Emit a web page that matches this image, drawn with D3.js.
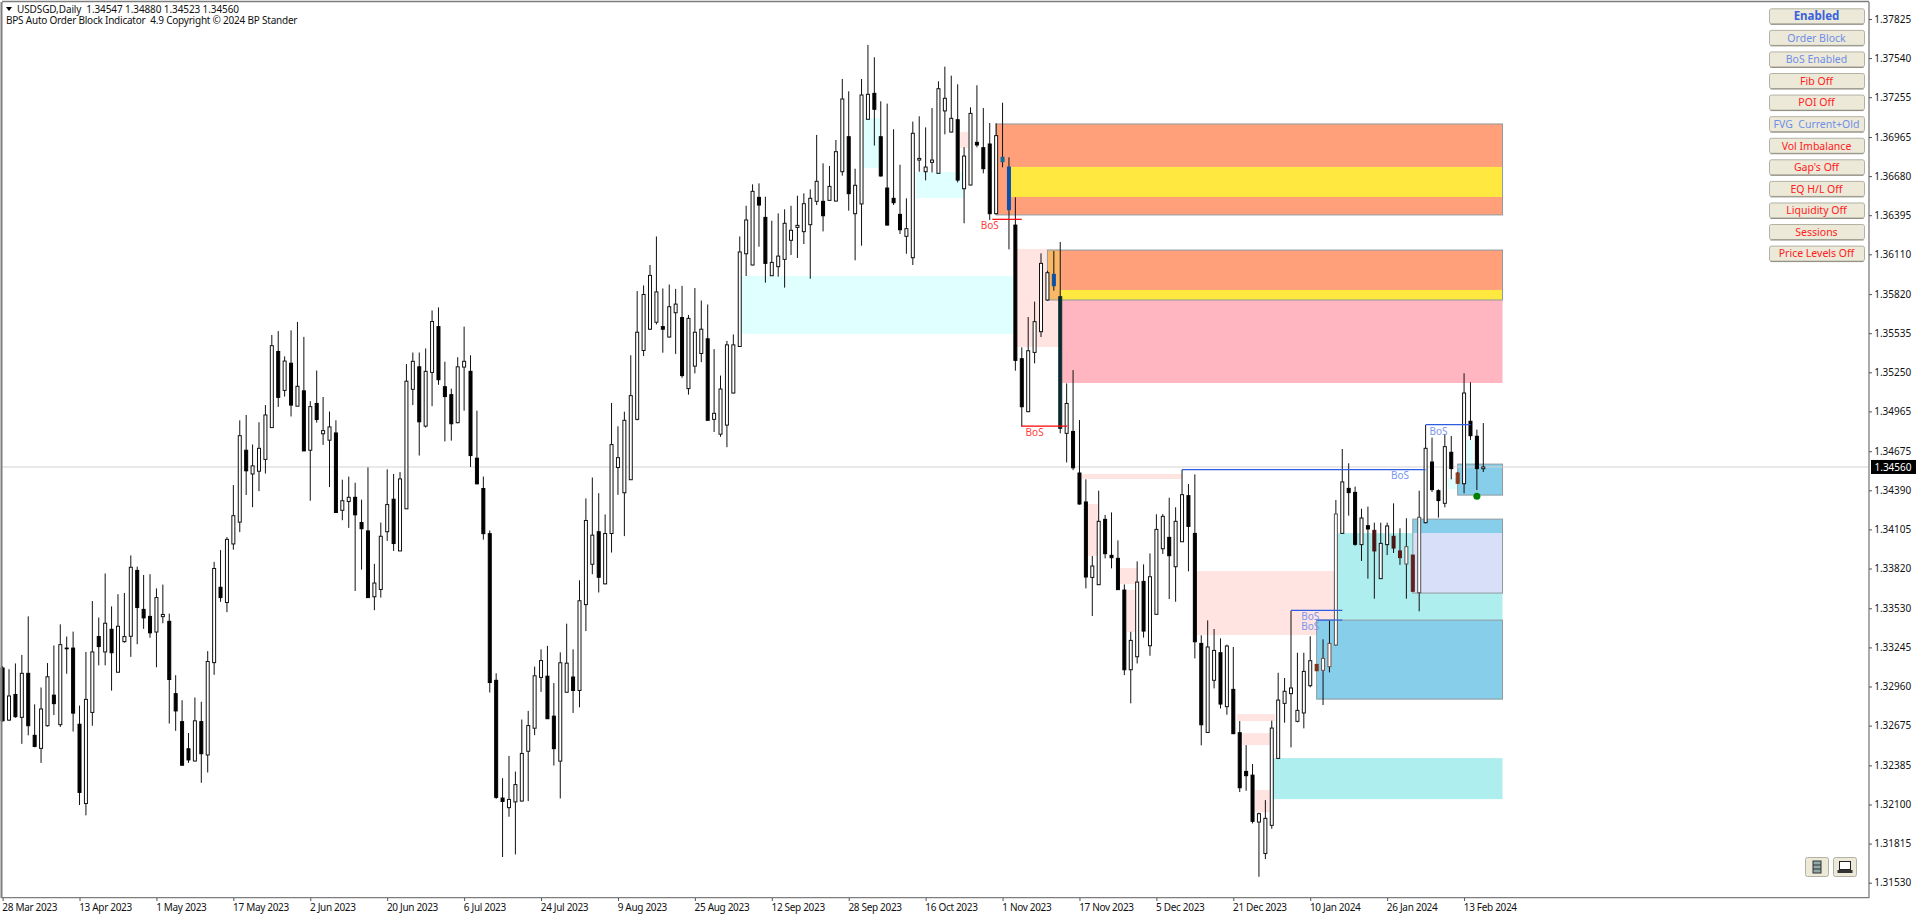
<!DOCTYPE html>
<html><head><meta charset="utf-8">
<script src="https://cdn.jsdelivr.net/npm/d3@7/dist/d3.min.js"></script>
<style>
html,body{margin:0;padding:0;background:#fff;overflow:hidden}
svg{display:block;font-family:"Noto Sans",sans-serif}
text{white-space:pre}
</style></head><body>
<script>
const opens=[1.33095,1.32715,1.32902,1.32735,1.33056,1.32604,1.32509,1.32674,1.32897,1.32682,
1.33240,1.33240,1.32685,1.32107,1.32771,1.33324,1.33212,1.33377,1.33064,1.33287,
1.33326,1.33806,1.33522,1.33471,1.33357,1.33469,1.33435,1.32908,1.32704,1.32506,
1.32417,1.32704,1.32461,1.33134,1.33683,1.33572,1.33999,1.34158,1.34682,1.34509,
1.34529,1.34615,1.34847,1.35402,1.35118,1.35316,1.35003,1.35115,1.34682,1.35023,
1.34802,1.34755,1.34808,1.34244,1.34308,1.34339,1.34155,1.34094,1.33614,1.33667,
1.34088,1.34325,1.33948,1.34255,1.35126,1.35290,1.34858,1.35249,1.35583,1.35145,
1.35087,1.34883,1.35288,1.35257,1.34624,1.34403,1.34074,1.33005,1.32147,1.32077,
1.32119,1.32125,1.32488,1.32656,1.33026,1.33035,1.32744,1.32416,1.32918,1.33029,
1.32931,1.33557,1.33851,1.34088,1.33708,1.34075,1.34556,1.34372,1.34467,1.34907,
1.35409,1.35564,1.35615,1.35583,1.35507,1.35684,1.35649,1.35131,1.35295,1.35387,
1.35494,1.34907,1.34799,1.34865,1.35099,1.35438,1.36114,1.36032,1.36525,1.36379,
1.35954,1.36020,1.36073,1.36212,1.36306,1.36275,1.36326,1.36496,1.36496,1.36503,
1.36498,1.36712,1.36967,1.36406,1.36477,1.37094,1.37283,1.36967,1.36593,1.36518,
1.36401,1.36241,1.36085,1.36797,1.36712,1.36780,1.36700,1.37155,1.37001,1.37091,
1.36588,1.36615,1.36926,1.36887,1.36914,1.36406,1.36817,1.36746,1.36323,1.35349,
1.34963,1.35395,1.35546,1.35777,1.35964,1.35801,1.34805,1.34819,1.34516,1.34305,
1.33755,1.33702,1.34178,1.33916,1.33894,1.33663,1.33082,1.33177,1.33726,1.33257,
1.33486,1.33964,1.34047,1.33833,1.34015,1.34351,1.34076,1.33274,1.32625,1.33005,
1.33206,1.32813,1.32939,1.32623,1.32341,1.32314,1.31972,1.31743,1.31948,1.32436,
1.32837,1.32908,1.32706,1.32767,1.32966,1.33121,1.33078,1.33104,1.33262,1.34076,
1.34404,1.34375,1.33994,1.34132,1.34098,1.33746,1.33994,1.34055,1.33948,1.33853,
1.33918,1.33644,1.34154,1.34596,1.34387,1.34295,1.34667,1.34516,1.34438,1.34893,
1.34784,1.34547];
const closes=[1.32710,1.32891,1.32740,1.33056,1.32674,1.32523,1.32796,1.33031,1.32835,1.33265,
1.33235,1.32766,1.32188,1.32866,1.33212,1.33251,1.33421,1.33206,1.33399,1.33324,
1.33829,1.33536,1.33460,1.33351,1.33608,1.33485,1.33011,1.32782,1.32386,1.32425,
1.32710,1.32470,1.33142,1.33820,1.33608,1.34032,1.34205,1.34788,1.34532,1.34568,
1.34696,1.34939,1.35444,1.35067,1.35332,1.35011,1.35148,1.34677,1.35000,1.34906,
1.34825,1.34852,1.34228,1.34314,1.34339,1.34211,1.34110,1.33608,1.33714,1.34055,
1.34286,1.34002,1.34473,1.35185,1.35330,1.34889,1.35257,1.35620,1.35196,1.35073,
1.34875,1.35290,1.35330,1.34643,1.34437,1.34074,1.32989,1.32152,1.32122,1.32137,
1.32245,1.32472,1.32675,1.33038,1.33149,1.32725,1.32507,1.33133,1.33130,1.32931,
1.33585,1.34170,1.34063,1.33756,1.34075,1.34723,1.34628,1.34900,1.35080,1.35542,
1.35817,1.35956,1.35836,1.35564,1.35728,1.35747,1.35226,1.35643,1.35542,1.35564,
1.34900,1.34951,1.35128,1.35450,1.35450,1.36127,1.36360,1.36569,1.36469,1.36044,
1.36051,1.36097,1.36336,1.36285,1.36321,1.36479,1.36518,1.36642,1.36391,1.36605,
1.36858,1.37242,1.36552,1.36613,1.37271,1.37276,1.37167,1.36681,1.36323,1.36486,
1.36289,1.36297,1.36992,1.36809,1.36746,1.36797,1.37317,1.37247,1.37101,1.36651,
1.36826,1.37137,1.36907,1.36734,1.36406,1.36975,1.36785,1.36435,1.35337,1.34999,
1.35407,1.35619,1.36044,1.35976,1.35881,1.34841,1.35023,1.34554,1.34290,1.33758,
1.33838,1.34164,1.33928,1.33899,1.33666,1.33082,1.33296,1.33721,1.33364,1.33760,
1.34105,1.34200,1.33913,1.34164,1.34358,1.34127,1.33286,1.32681,1.33248,1.33223,
1.32832,1.33255,1.32616,1.32222,1.32310,1.31977,1.32033,1.31999,1.32657,1.32861,
1.32925,1.32949,1.32786,1.33070,1.33148,1.33075,1.33165,1.33274,1.34217,1.34451,
1.34373,1.33996,1.34188,1.34108,1.33948,1.34003,1.34130,1.33969,1.33899,1.33979,
1.33654,1.34193,1.34696,1.34395,1.34315,1.34708,1.34548,1.34441,1.35099,1.34788,
1.34548,1.34560];
const highs=[1.33109,1.33086,1.33128,1.33190,1.33471,1.32830,1.32953,1.33131,1.33259,1.33413,
1.33324,1.33360,1.32821,1.33212,1.33583,1.33463,1.33784,1.33544,1.33633,1.33642,
1.33915,1.33834,1.33773,1.33778,1.33675,1.33703,1.33491,1.33042,1.32860,1.32621,
1.32880,1.32849,1.33218,1.33868,1.33954,1.34049,1.34428,1.34900,1.34939,1.34724,
1.34886,1.35011,1.35522,1.35550,1.35366,1.35556,1.35617,1.35508,1.35040,1.35263,
1.35070,1.34964,1.34900,1.34467,1.34490,1.34445,1.34322,1.34557,1.33854,1.34155,
1.34543,1.34509,1.34523,1.35310,1.35394,1.35394,1.35424,1.35701,1.35723,1.35327,
1.35131,1.35360,1.35583,1.35374,1.34970,1.34490,1.34097,1.33056,1.32292,1.32454,
1.32340,1.32719,1.32782,1.33105,1.33231,1.33256,1.32985,1.33209,1.33418,1.33231,
1.33734,1.34331,1.34483,1.34369,1.34214,1.35027,1.34856,1.34963,1.35374,1.35842,
1.35883,1.36032,1.36240,1.35861,1.35890,1.35858,1.35880,1.35668,1.35864,1.35773,
1.35744,1.35419,1.35226,1.35479,1.35526,1.36240,1.36464,1.36620,1.36627,1.36530,
1.36355,1.36408,1.36438,1.36464,1.36537,1.36554,1.36583,1.36980,1.36773,1.36754,
1.36943,1.37388,1.37298,1.36734,1.37388,1.37636,1.37546,1.37225,1.37208,1.37021,
1.36763,1.36518,1.37077,1.37116,1.37035,1.37176,1.37371,1.37478,1.37412,1.37349,
1.36890,1.37181,1.37342,1.37176,1.37067,1.37065,1.37215,1.36817,1.36525,1.35432,
1.35653,1.35765,1.36117,1.35990,1.36134,1.36200,1.35169,1.35266,1.34902,1.34470,
1.33911,1.34387,1.34210,1.34229,1.34025,1.33704,1.33359,1.33872,1.33850,1.33930,
1.34215,1.34217,1.34336,1.34266,1.34540,1.34436,1.34506,1.33333,1.33442,1.33379,
1.33311,1.33265,1.33248,1.32708,1.32533,1.32395,1.32040,1.32132,1.32711,1.33060,
1.33022,1.33513,1.33206,1.33206,1.33326,1.33121,1.33304,1.33440,1.34319,1.34691,
1.34587,1.34417,1.34256,1.34271,1.34154,1.34154,1.34154,1.34295,1.34113,1.34186,
1.33918,1.34387,1.34866,1.34774,1.34397,1.34801,1.34786,1.34524,1.35243,1.35177,
1.34832,1.34880];
const lows=[1.32704,1.32710,1.32732,1.32542,1.32604,1.32517,1.32403,1.32668,1.32752,1.32665,
1.33053,1.32632,1.32096,1.32021,1.32674,1.33114,1.33114,1.32930,1.33061,1.33279,
1.33176,1.33268,1.33380,1.33315,1.33100,1.33421,1.32690,1.32637,1.32386,1.32403,
1.32414,1.32258,1.32333,1.33045,1.33577,1.33502,1.33957,1.34085,1.34356,1.34267,
1.34384,1.34512,1.34847,1.34998,1.35073,1.34928,1.35003,1.34677,1.34314,1.34883,
1.34721,1.34414,1.34228,1.34172,1.34116,1.33656,1.33812,1.33608,1.33516,1.33608,
1.34021,1.33948,1.33948,1.34255,1.35011,1.34643,1.34847,1.35003,1.35159,1.34746,
1.34752,1.34878,1.34970,1.34560,1.34434,1.34030,1.32916,1.32141,1.31717,1.32011,
1.31736,1.32122,1.32125,1.32605,1.32921,1.32725,1.32384,1.32144,1.32918,1.32767,
1.32808,1.33364,1.33778,1.33645,1.33705,1.33936,1.34357,1.34056,1.34467,1.34900,
1.35368,1.35558,1.35599,1.35393,1.35504,1.35384,1.35210,1.35087,1.35242,1.35324,
1.34900,1.34815,1.34780,1.34704,1.35096,1.35438,1.35952,1.36029,1.36165,1.35903,
1.35952,1.35947,1.35867,1.36105,1.36083,1.36185,1.35932,1.36469,1.36277,1.36501,
1.36496,1.36683,1.36428,1.36066,1.36173,1.37089,1.36902,1.36676,1.36321,1.36469,
1.36258,1.36114,1.36032,1.36712,1.36649,1.36707,1.36700,1.36984,1.36999,1.36634,
1.36336,1.36613,1.36890,1.36700,1.36360,1.36401,1.36744,1.36146,1.35262,1.34853,
1.34960,1.35315,1.35507,1.35772,1.35845,1.34805,1.34593,1.34537,1.34285,1.33675,
1.33474,1.33700,1.33894,1.33821,1.33663,1.33043,1.32837,1.33128,1.33316,1.33184,
1.33483,1.33926,1.33597,1.33578,1.34013,1.33799,1.33165,1.32531,1.32623,1.32946,
1.32800,1.32754,1.32613,1.32191,1.32200,1.31962,1.31573,1.31702,1.31923,1.32431,
1.32696,1.32516,1.32699,1.32655,1.32954,1.33075,1.32825,1.33063,1.33257,1.34074,
1.34205,1.33986,1.33875,1.33746,1.33600,1.33744,1.33918,1.33933,1.33846,1.33600,
1.33651,1.33508,1.34149,1.34378,1.34191,1.34266,1.34470,1.34436,1.34368,1.34757,
1.34392,1.34523];
const dateLabels=["28 Mar 2023","13 Apr 2023","1 May 2023","17 May 2023","2 Jun 2023","20 Jun 2023","6 Jul 2023","24 Jul 2023","9 Aug 2023","25 Aug 2023","12 Sep 2023","28 Sep 2023","16 Oct 2023","1 Nov 2023","17 Nov 2023","5 Dec 2023","21 Dec 2023","10 Jan 2024","26 Jan 2024","13 Feb 2024"];
const priceTicks=[1.37825,1.37540,1.37255,1.36965,1.36680,1.36395,1.36110,1.35820,1.35535,1.35250,1.34965,1.34675,1.34390,1.34105,1.33820,1.33530,1.33245,1.32960,1.32675,1.32385,1.32100,1.31815,1.31530];
const lastPrice=1.34560;
// zones: [kind, first bar, last bar, upper price, lower price]
const zones=[
["cyan",115.3,157.6,1.35952,1.35529],["cyan",134.2,136.9,1.37104,1.36739],["cyan",142.5,150,1.36710,1.36521],
["pink",149.4,150.6,1.37002,1.36885],["pink",158.2,165,1.36149,1.35434],["pink",168.4,184,1.34509,1.34472],
["pink",169.2,170.9,1.34290,1.33911],["pink",174.3,177,1.33823,1.33707],["pink",175.4,176.7,1.33663,1.33357],
["pink",186.3,207.7,1.33801,1.33335],["pink",192.6,198.5,1.32759,1.32708],["pink",193.4,197.7,1.32620,1.32533],
["pink",195.4,197.7,1.32205,1.32044],
["turq",198.2,234,1.32438,1.32139],["turq",208.3,234,1.34078,1.33444],
["cyan",225.5,227.4,1.34479,1.34399],["cyan",228.4,229.4,1.34756,1.34560],
["salmon",155,234,1.37060,1.36397],["yellow",157,234,1.36747,1.36528],
["amber",163,165,1.36141,1.35777],["salmon",165,234,1.36141,1.35850],["yellow",165,234,1.35850,1.35777],
["rose",165.3,234,1.35777,1.35172],
["sky",205,234,1.33444,1.32868],["sky",220,234,1.34180,1.34078],["lavender",220,234,1.34078,1.33641],["sky",227,234,1.34581,1.34355]];
const zoneFill={cyan:"#e0ffff",pink:"#ffe4e1",turq:"#afeeee",salmon:"#ffa07a",yellow:"#ffe840",amber:"#f8b868",rose:"#ffb6c1",sky:"#87ceeb",lavender:"#d8dff8"};
// outlined blocks: [first bar, last bar, upper, lower]
const outlined=[[155,234,1.37060,1.36397],[163,234,1.36141,1.35777],[205,234,1.33444,1.32868],[220,234,1.34180,1.33641],[227,234,1.34581,1.34355]];
// break of structure: [colour kind, first bar, last bar, price, label bar]
const bos=[["red",154.4,159,1.36365,154],["red",159,166.1,1.34858,161],["blue",184,222,1.34541,218],["blue",201,209,1.33515,204],["blue",205,209,1.33444,204],["blue",222,229,1.34868,224]];
const tintBars=[156,157,164,165,205,214,217,218,220,227];
const tintColors=["#0a6ca0","#0a50b0","#0a50a8","#0a2a30","#7a3418","#4a1414","#4a1414","#5a1a1a","#602020","#8a3a1a"];
const softBars=[206,207,208,219,221];
const softColors=["#7a5040","#7a5040","#555050","#555050","#555050"];
const signalBar=230, signalPrice=1.34347;
const panelLabels=["Enabled","Order Block","BoS Enabled","Fib Off","POI Off","FVG  Current+Old","Vol Imbalance","Gap's Off","EQ H/L Off","Liquidity Off","Sessions","Price Levels Off"];
const panelStates=["strong","on","on","off","off","on","off","off","off","off","off","off"];
const headerLines=["USDSGD,Daily  1.34547 1.34880 1.34523 1.34560","BPS Auto Order Block Indicator  4.9 Copyright © 2024 BP Stander"];

const W=1920,H=917,L=2,T=2,R=1869,B=898;
const x=d3.scaleLinear().domain([0,231]).range([2.6,1483.3]);
const y=d3.scaleLinear().domain([1.37825,1.31530]).range([19,882.7]);
const svg=d3.select("body").append("svg").attr("width",W).attr("height",H);
svg.append("rect").attr("width",W).attr("height",H).attr("fill","#fff");

const plot=svg.append("g");
plot.selectAll(".zone").data(zones).join("rect").attr("class","zone")
 .attr("x",d=>x(d[1])).attr("width",d=>x(d[2])-x(d[1]))
 .attr("y",d=>y(d[3])).attr("height",d=>y(d[4])-y(d[3]))
 .attr("fill",d=>zoneFill[d[0]]);
plot.selectAll(".block").data(outlined).join("rect").attr("class","block")
 .attr("x",d=>x(d[0])).attr("width",d=>x(d[1])-x(d[0]))
 .attr("y",d=>y(d[2])).attr("height",d=>y(d[3])-y(d[2]))
 .attr("fill","none").attr("stroke","#8f9a9f").attr("stroke-width",1);
plot.append("line").attr("x1",L).attr("x2",R).attr("y1",y(lastPrice)).attr("y2",y(lastPrice)).attr("stroke","#d3d3d3").attr("stroke-width",1);

const idx=d3.range(opens.length);
const tint=i=>{const k=tintBars.indexOf(i);return k<0?null:tintColors[k]};
const soft=i=>{const k=softBars.indexOf(i);return k<0?null:softColors[k]};
plot.selectAll(".wick").data(idx).join("line").attr("class","wick")
 .attr("x1",i=>x(i)).attr("x2",i=>x(i)).attr("y1",i=>y(highs[i])).attr("y2",i=>y(lows[i]))
 .attr("stroke","#111").attr("stroke-width",1);
plot.selectAll(".body").data(idx).join("rect").attr("class","body")
 .attr("x",i=>x(i)-1.5).attr("width",3)
 .attr("y",i=>y(Math.max(opens[i],closes[i])))
 .attr("height",i=>Math.max(0.5,Math.abs(y(opens[i])-y(closes[i]))))
 .attr("fill",i=>closes[i]>=opens[i]?"#fff":(tint(i)||"#000"))
 .attr("stroke",i=>closes[i]>=opens[i]?(soft(i)||"#111"):(tint(i)||"#000"))
 .attr("stroke-width",1);

const bosColor={red:"#ff0000",blue:"#2f5de0"},bosText={red:"#ff3c3c",blue:"#7a96ee"};
plot.selectAll(".bos").data(bos).join("line").attr("class","bos")
 .attr("x1",d=>x(d[1])).attr("x2",d=>x(d[2])).attr("y1",d=>y(d[3])).attr("y2",d=>y(d[3]))
 .attr("stroke",d=>bosColor[d[0]]).attr("stroke-width",1.2);
plot.selectAll(".bost").data(bos).join("text").attr("class","bost")
 .attr("x",d=>x(d[4])).attr("y",d=>y(d[3])+9.8).attr("text-anchor","middle")
 .attr("font-size",10).attr("fill",d=>bosText[d[0]]).text("BoS");
plot.append("circle").attr("cx",x(signalBar)).attr("cy",y(signalPrice)).attr("r",3.5).attr("fill","#008000");

// frame
const frame=svg.append("g").attr("stroke","#7d7d7d");
frame.append("line").attr("x1",1.5).attr("x2",1.5).attr("y1",T).attr("y2",B).attr("stroke-width",2);
frame.append("line").attr("x1",L).attr("x2",R).attr("y1",T-.5).attr("y2",T-.5).attr("stroke-width",1.3);
frame.append("line").attr("x1",R).attr("x2",R).attr("y1",T).attr("y2",B).attr("stroke-width",1.3);
frame.append("line").attr("x1",1).attr("x2",R).attr("y1",B-.3).attr("y2",B-.3).attr("stroke-width",1.3);

// axes
const ay=svg.append("g").attr("transform",`translate(${R},0)`)
 .call(d3.axisRight(y).tickValues(priceTicks).tickFormat(d3.format(".5f")).tickSize(3).tickPadding(2.2));
ay.select(".domain").remove();
ay.selectAll("text").attr("font-family",'"Noto Sans",sans-serif').attr("font-size",10).attr("fill","#111");
ay.selectAll("line").attr("stroke","#555");
const ax=svg.append("g").attr("transform",`translate(0,${B})`)
 .call(d3.axisBottom(x).tickValues(dateLabels.map((d,i)=>i*12)).tickFormat((d,i)=>dateLabels[i]).tickSize(3).tickPadding(3));
ax.select(".domain").remove();
ax.selectAll("text").attr("text-anchor","start").attr("dx",-0.8).attr("letter-spacing",-0.32).attr("font-family",'"Noto Sans",sans-serif').attr("font-size",10).attr("fill","#111");
ax.selectAll("line").attr("stroke","#555");

// last price tag
svg.append("rect").attr("x",R+2).attr("y",y(lastPrice)-7).attr("width",45).attr("height",14).attr("fill","#000");
svg.append("text").attr("x",R+5.5).attr("y",y(lastPrice)+3.6).attr("font-size",10).attr("fill","#fff").text(d3.format(".5f")(lastPrice));

// header
const headerWidths=[222,291.5];
svg.append("path").attr("d","M6 7h6l-3 4z").attr("fill","#000");
svg.selectAll(".hdr").data(headerLines).join("text").attr("class","hdr")
 .attr("x",(d,i)=>i?6:17).attr("y",(d,i)=>i?24:13)
 .attr("font-size",10).attr("fill","#111")
 .attr("textLength",(d,i)=>headerWidths[i]).attr("lengthAdjust","spacing").text(d=>d);

// side panel
const panelY=d3.scaleLinear().domain([0,11]).range([8.3,245.6]);
const stateColor={strong:"#3a62dc",on:"#6f8ee8",off:"#ff2020"};
const btn=svg.selectAll(".btn").data(panelLabels).join("g").attr("class","btn").attr("transform",(d,i)=>`translate(1769,${panelY(i)})`);
btn.append("rect").attr("x",.5).attr("y",.5).attr("width",95).attr("height",15).attr("rx",2).attr("fill","#ece9d8").attr("stroke","#b3b1a3");
btn.append("path").attr("d","M1.5 16h93").attr("stroke","#8f8d80").attr("fill","none");
btn.append("text").attr("x",47.5).attr("y",11.8).attr("text-anchor","middle")
 .attr("font-size",(d,i)=>panelStates[i]==="strong"?11.5:10.5)
 .attr("font-weight",(d,i)=>panelStates[i]==="strong"?700:400)
 .attr("fill",(d,i)=>stateColor[panelStates[i]]).text(d=>d);

// window buttons
const wb=svg.append("g");
[1805,1833].forEach(px=>{
 wb.append("rect").attr("x",px+.5).attr("y",857.5).attr("width",23).attr("height",19).attr("rx",2).attr("fill","#ece9d8").attr("stroke","#b3b1a3");
});
wb.append("rect").attr("x",1813).attr("y",861).attr("width",8).attr("height",12).attr("fill","#8fa8a8").attr("stroke","#333");
wb.append("path").attr("d","M1813 865h8M1813 869h8").attr("stroke","#333");
wb.append("rect").attr("x",1839.5).attr("y",861.5).attr("width",11).attr("height",8).attr("fill","#fff").attr("stroke","#222");
wb.append("rect").attr("x",1837.5).attr("y",870).attr("width",15).attr("height",3).attr("fill","#333");
</script>
</body></html>
